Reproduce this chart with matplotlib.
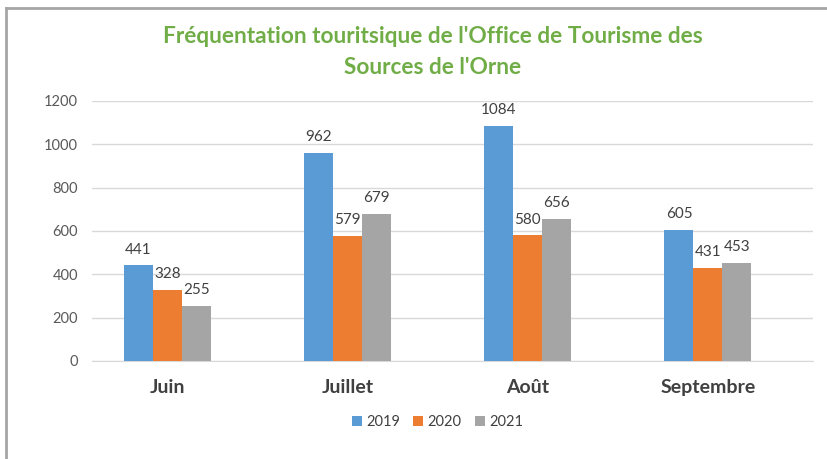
import numpy as np
import matplotlib.pyplot as plt
from matplotlib.lines import Line2D

months = ["Juin", "Juillet", "Août", "Septembre"]
years = ["2019", "2020", "2021"]
v2019 = [441, 962, 1084, 605]
v2020 = [328, 579, 580, 431]
v2021 = [255, 679, 656, 453]
colors = ["#5B9BD5", "#ED7D31", "#A5A5A5"]

plt.rcParams['font.family'] = ['Lato', 'DejaVu Sans']

fig = plt.figure(figsize=(8.27, 4.59), dpi=100)
ax = fig.add_axes([92/827, 98/459, (813-92)/827, 260/459])

x = np.arange(len(months))
w = 0.161
for i, (vals, c, lab) in enumerate(zip([v2019, v2020, v2021], colors, years)):
    pos = x + (i - 1) * w
    ax.bar(pos, vals, width=w, color=c, label=lab, zorder=3)
    for p, v in zip(pos, vals):
        ax.text(p, v + 40, str(v), ha="center", va="bottom", fontsize=11, color="#404040")

ax.set_ylim(0, 1200)
ax.set_xlim(-0.419, 3.583)
ax.set_yticks(range(0, 1201, 200))
ax.tick_params(axis="y", length=0, labelsize=10.5, labelcolor="#595959", pad=10)
ax.set_xticks(x)
ax.set_xticklabels(months, fontsize=14, fontweight="bold", color="#404040")
ax.tick_params(axis="x", length=0, pad=13)
ax.grid(axis="y", color="#d9d9d9", linewidth=1, zorder=0)
for s in ["top", "right", "left"]:
    ax.spines[s].set_visible(False)
ax.spines["bottom"].set_color("#d9d9d9")

fig.text(0.523, 0.887, "Fréquentation touritsique de l'Office de Tourisme des\nSources de l'Orne",
         ha="center", va="center", fontsize=16.3, fontweight="bold", color="#70AD47", linespacing=1.6)

fig.legend(loc="center", bbox_to_anchor=(0.529, 0.08), ncol=3, frameon=False,
           fontsize=10.5, handlelength=0.7, handleheight=0.7, handletextpad=0.3,
           columnspacing=0.9, labelcolor="#404040")

# chart border (top and left edges visible)
fig.add_artist(Line2D([6/827, 1], [1 - 8/459, 1 - 8/459], color="#a6a6a6", linewidth=2))
fig.add_artist(Line2D([6/827, 6/827], [0, 1 - 8/459], color="#a6a6a6", linewidth=2))

fig.savefig("out.png", dpi=100)
